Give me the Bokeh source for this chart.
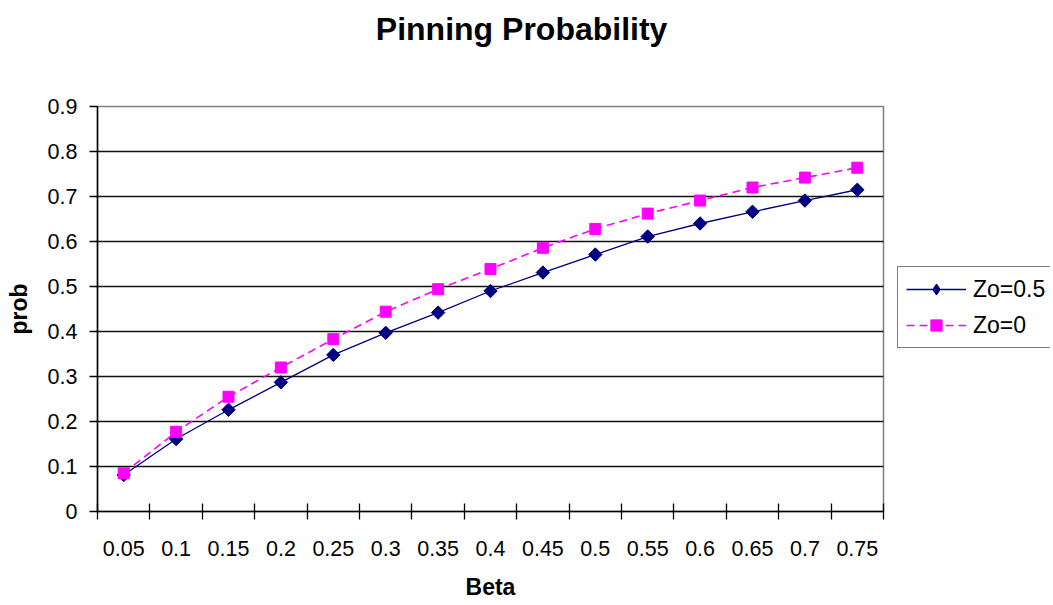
from bokeh.plotting import figure
from bokeh.models import FixedTicker, Legend, LegendItem, Range1d, LinearAxis
from bokeh.layouts import row
from bokeh.embed import file_html
from bokeh.resources import INLINE

beta = ["0.05", "0.1", "0.15", "0.2", "0.25", "0.3", "0.35", "0.4", "0.45", "0.5", "0.55", "0.6", "0.65", "0.7", "0.75"]
zo_05 = [0.081, 0.161, 0.226, 0.287, 0.348, 0.397, 0.442, 0.490, 0.531, 0.571, 0.611, 0.640, 0.666, 0.691, 0.715]
zo_0 = [0.085, 0.177, 0.255, 0.320, 0.383, 0.444, 0.494, 0.539, 0.586, 0.628, 0.662, 0.691, 0.720, 0.742, 0.764]
y_ticks = [0, 0.1, 0.2, 0.3, 0.4, 0.5, 0.6, 0.7, 0.8, 0.9]
title_text = "Pinning Probability"

FONT = "Liberation Sans"
n = len(beta)
xs = [i + 0.5 for i in range(n)]

p = figure(width=885, height=603, output_backend="svg", toolbar_location=None,
           x_range=Range1d(0, n), y_range=Range1d(0, 0.9),
           min_border_left=97, min_border_right=2, min_border_top=106, min_border_bottom=92)
p.title = None
xa = p.below[0]
ya = p.left[0]

# title drawn as the label of an empty axis above the plot area
# (leading no-break spaces shift it right, as the chart title is centred on the whole chart)
ta = LinearAxis(ticker=FixedTicker(ticks=[], minor_ticks=[]), axis_line_color=None,
                major_tick_in=0, major_tick_out=0, minor_tick_in=0, minor_tick_out=0,
                major_label_text_font_size="0px", major_label_standoff=0,
                axis_label="\u00a0" * 7 + title_text, axis_label_text_font=FONT,
                axis_label_text_font_size="32px", axis_label_text_font_style="bold",
                axis_label_text_color="black", axis_label_standoff=60)
p.add_layout(ta, "above")

p.background_fill_color = "white"
p.border_fill_color = "white"
p.outline_line_color = "#808080"
p.outline_line_width = 1.5

# x axis: ticks between categories, labels at category centres
xa.ticker = FixedTicker(ticks=xs, minor_ticks=list(range(n + 1)))
xa.major_label_overrides = {x: b for x, b in zip(xs, beta)}
xa.major_tick_in = 0
xa.major_tick_out = 0
xa.minor_tick_in = 8
xa.minor_tick_out = 8
xa.minor_tick_line_color = "black"
xa.minor_tick_line_width = 1.3
xa.axis_line_color = "black"
xa.axis_line_width = 1.5
xa.major_label_text_font = FONT
xa.major_label_text_font_size = "21.5px"
xa.major_label_text_color = "black"
xa.major_label_standoff = 21
xa.axis_label = "Beta"
xa.axis_label_text_font = FONT
xa.axis_label_text_font_size = "23px"
xa.axis_label_text_font_style = "bold"
xa.axis_label_text_color = "black"
xa.axis_label_standoff = 15

ya.ticker = FixedTicker(ticks=y_ticks, minor_ticks=[])
ya.major_label_overrides = {v: f"{v:g}" for v in y_ticks}
ya.major_tick_in = 0
ya.major_tick_out = 8
ya.major_tick_line_color = "black"
ya.major_tick_line_width = 1.3
ya.axis_line_color = "black"
ya.axis_line_width = 1.5
ya.major_label_text_font = FONT
ya.major_label_text_font_size = "21.5px"
ya.major_label_text_color = "black"
ya.major_label_standoff = 12
ya.axis_label = "prob"
ya.axis_label_text_font = FONT
ya.axis_label_text_font_size = "23px"
ya.axis_label_text_font_style = "bold"
ya.axis_label_text_color = "black"
ya.axis_label_standoff = 13

p.xgrid.grid_line_color = None
p.ygrid.ticker = FixedTicker(ticks=y_ticks)
p.ygrid.grid_line_color = "#111111"
p.ygrid.grid_line_width = 1.4

NAVY = "#000080"
MAG = "#FF00FF"
DIA = dict(marker="square", angle=0.7854, size=9.5, fill_color=NAVY, line_color=NAVY)
DIA_KEY = dict(marker="diamond", size=14, fill_color=NAVY, line_color=NAVY)
SQ = dict(marker="square", size=11, fill_color=MAG, line_color=MAG)
L1 = dict(line_color=NAVY, line_width=1.3)
L2 = dict(line_color=MAG, line_width=1.6, line_dash="8 5")

p.line(xs, zo_05, **L1)
p.scatter(xs, zo_05, **DIA)
p.line(xs, zo_0, **L2)
p.scatter(xs, zo_0, **SQ)

# legend panel to the right of the plot area (its own renderers lie outside its view)
p2 = figure(width=165, height=603, output_backend="svg", toolbar_location=None,
            x_range=Range1d(100, 101), y_range=Range1d(0, 1), min_border=0)
p2.axis.visible = False
p2.grid.visible = False
p2.outline_line_color = None
p2.background_fill_color = "white"
p2.border_fill_color = "white"
k1 = p2.line(xs, zo_05, **L1)
k1m = p2.scatter(xs, zo_05, **DIA_KEY)
k2 = p2.line(xs, zo_0, **L2)
k2m = p2.scatter(xs, zo_0, **SQ)
legend = Legend(items=[LegendItem(label="Zo=0.5", renderers=[k1, k1m]),
                       LegendItem(label="Zo=0", renderers=[k2, k2m])],
                location=(12, 163), margin=0, padding=8, spacing=8,
                glyph_width=60, glyph_height=28, label_standoff=7,
                label_text_font=FONT, label_text_font_size="23px",
                label_text_color="black",
                border_line_color="black", border_line_width=1.3,
                background_fill_alpha=1.0)
p2.add_layout(legend, "center")

open("out.html", "w").write(file_html(row(p, p2), INLINE))
